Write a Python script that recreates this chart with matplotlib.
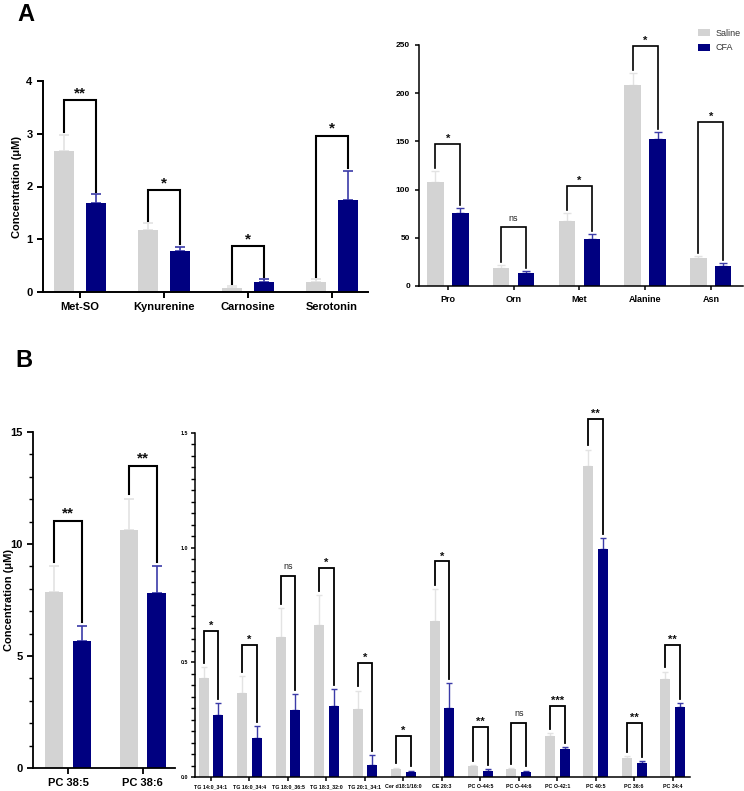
import matplotlib
matplotlib.use("Agg")
import matplotlib.pyplot as plt
from matplotlib.patches import Patch
from matplotlib.ticker import MultipleLocator

plt.rcParams['font.family'] = ['Liberation Sans', 'DejaVu Sans']

SAL_C = '#d3d3d3'
CFA_C = '#000080'
SAL_E = '#e3e3e3'
CFA_E = '#3b3ba8'

# ---- Panel A left ----
a1_cats = ['Met-SO', 'Kynurenine', 'Carnosine', 'Serotonin']
a1_sal = [2.67, 1.17, 0.08, 0.19]
a1_sal_err = [0.31, 0.13, 0.03, 0.05]
a1_cfa = [1.68, 0.78, 0.19, 1.74]
a1_cfa_err = [0.17, 0.08, 0.05, 0.56]
a1_sig = ['**', '*', '*', '*']
a1_brk = [3.64, 1.93, 0.87, 2.96]

# ---- Panel A right ----
a2_cats = ['Pro', 'Orn', 'Met', 'Alanine', 'Asn']
a2_sal = [107.5, 19.0, 67.8, 208.0, 28.7]
a2_sal_err = [12.0, 2.5, 8.2, 13.0, 2.8]
a2_cfa = [75.4, 13.8, 48.4, 153.0, 20.7]
a2_cfa_err = [6.0, 2.1, 5.2, 7.0, 2.8]
a2_sig = ['*', 'ns', '*', '*', '*']
a2_brk = [147, 61.5, 104, 249, 170]

# ---- Panel B left ----
b1_cats = ['PC 38:5', 'PC 38:6']
b1_sal = [7.87, 10.61]
b1_sal_err = [1.16, 1.42]
b1_cfa = [5.68, 7.82]
b1_cfa_err = [0.65, 1.18]
b1_sig = ['**', '**']
b1_brk = [11.03, 13.49]

# ---- Panel B right ----
b2_cats = ['TG 14:0_34:1', 'TG 16:0_34:4', 'TG 18:0_36:5', 'TG 18:3_32:0',
           'TG 20:1_34:1', 'Cer d18:1/16:0', 'CE 20:3', 'PC O-44:5',
           'PC O-44:6', 'PC O-42:1', 'PC 40:5', 'PC 36:6', 'PC 34:4']
b2_sal = [0.431, 0.368, 0.610, 0.664, 0.297, 0.035, 0.680, 0.049, 0.036, 0.179, 1.354, 0.084, 0.428]
b2_sal_err = [0.048, 0.072, 0.125, 0.131, 0.080, 0.006, 0.140, 0.004, 0.004, 0.012, 0.074, 0.009, 0.032]
b2_cfa = [0.272, 0.169, 0.291, 0.310, 0.052, 0.020, 0.300, 0.026, 0.020, 0.122, 0.993, 0.062, 0.307]
b2_cfa_err = [0.050, 0.055, 0.071, 0.073, 0.043, 0.008, 0.108, 0.010, 0.008, 0.008, 0.047, 0.006, 0.016]
b2_sig = ['*', '*', 'ns', '*', '*', '*', '*', '**', 'ns', '***', '**', '**', '**']
b2_brk = [0.638, 0.576, 0.875, 0.910, 0.498, 0.180, 0.940, 0.220, 0.234, 0.310, 1.563, 0.237, 0.575]

W, H = 744, 791
fig = plt.figure(figsize=(W / 100, H / 100), dpi=100)


def px_axes(x0, y0, x1, y1):
    return fig.add_axes([x0 / W, 1 - y1 / H, (x1 - x0) / W, (y1 - y0) / H])


def panel(ax, cats, sal, se, cfa, ce, sig, brk, ymax, xlim, width=0.25, off=0.19,
          cap=3.5, elw=1.2, blw=1.4, sfs=10, nsfs=7, gap_frac=0.012, star_pad=0.0):
    n = len(cats)
    xs = list(range(n))
    xl = [x - off for x in xs]
    xr = [x + off for x in xs]
    ax.bar(xl, sal, width=width, color=SAL_C, zorder=2)
    ax.bar(xr, cfa, width=width, color=CFA_C, zorder=2)
    ax.errorbar(xl, sal, yerr=[[0] * n, se], fmt='none', ecolor=SAL_E,
                elinewidth=elw, capsize=cap, capthick=elw, zorder=1)
    ax.errorbar(xr, cfa, yerr=[[0] * n, ce], fmt='none', ecolor=CFA_E,
                elinewidth=elw, capsize=cap, capthick=elw, zorder=1)
    gap = gap_frac * ymax
    for i in range(n):
        lb = sal[i] + se[i] + gap
        rb = cfa[i] + ce[i] + gap
        ax.plot([xl[i], xl[i], xr[i], xr[i]], [lb, brk[i], brk[i], rb],
                color='black', lw=blw, solid_joinstyle='miter', zorder=3, clip_on=False)
        if sig[i] == 'ns':
            ax.text(xs[i], brk[i] + 0.015 * ymax, 'ns', ha='center', va='bottom',
                    fontsize=nsfs, color='#222222')
        else:
            ax.text(xs[i], brk[i] + star_pad * ymax, sig[i], ha='center', va='bottom',
                    fontsize=sfs, fontweight='bold', color='#111111')
    ax.set_xlim(*xlim)
    ax.set_ylim(0, ymax)
    ax.set_xticks(xs)
    ax.set_xticklabels(cats)
    for s in ['top', 'right']:
        ax.spines[s].set_visible(False)
    ax.set_facecolor('none')


# A left
ax1 = px_axes(43, 81, 368, 292)
panel(ax1, a1_cats, a1_sal, a1_sal_err, a1_cfa, a1_cfa_err, a1_sig, a1_brk,
      4, (-0.44, 3.43), width=0.24, cap=3.5, blw=1.5, sfs=11)
ax1.set_yticks([0, 1, 2, 3, 4])
ax1.tick_params(axis='both', direction='out', length=4, width=1.4, labelsize=8)
for lab in ax1.get_xticklabels() + ax1.get_yticklabels():
    lab.set_fontweight('bold')
for s in ['left', 'bottom']:
    ax1.spines[s].set_linewidth(1.4)
ax1.set_ylabel('Concentration (\u03bcM)', fontsize=8, fontweight='bold')
ax1.yaxis.set_label_coords((22 - 43) / 325, 0.5)

# A right
ax2 = px_axes(419, 45, 743, 286)
panel(ax2, a2_cats, a2_sal, a2_sal_err, a2_cfa, a2_cfa_err, a2_sig, a2_brk,
      250, (-0.44, 4.49), width=0.25, cap=3, elw=1.0, blw=1.2, sfs=8, nsfs=6.5)
ax2.set_yticks([0, 50, 100, 150, 200, 250])
ax2.tick_params(axis='both', direction='out', length=3, width=1.1, labelsize=6)
for lab in ax2.get_xticklabels() + ax2.get_yticklabels():
    lab.set_fontweight('bold')
ax2.tick_params(axis='x', labelsize=6.5)
for s in ['left', 'bottom']:
    ax2.spines[s].set_linewidth(1.1)

# B left
ax3 = px_axes(33, 432, 175, 768)
panel(ax3, b1_cats, b1_sal, b1_sal_err, b1_cfa, b1_cfa_err, b1_sig, b1_brk,
      15, (-0.47, 1.43), width=0.25, off=0.187, cap=3.5, blw=1.5, sfs=11)
ax3.set_yticks([0, 5, 10, 15])
ax3.yaxis.set_minor_locator(MultipleLocator(1))
ax3.tick_params(axis='both', which='major', direction='out', length=4, width=1.3, labelsize=8)
ax3.tick_params(axis='y', which='minor', direction='out', length=3, width=1.0)
for lab in ax3.get_xticklabels() + ax3.get_yticklabels():
    lab.set_fontweight('bold')
for s in ['left', 'bottom']:
    ax3.spines[s].set_linewidth(1.3)
ax3.set_ylabel('Concentration (\u03bcM)', fontsize=8, fontweight='bold')
ax3.yaxis.set_label_coords((14 - 33) / 142, 0.5)

# B right
ax4 = px_axes(195, 433, 690, 777)
panel(ax4, b2_cats, b2_sal, b2_sal_err, b2_cfa, b2_cfa_err, b2_sig, b2_brk,
      1.5, (-0.416, 12.45), width=0.26, off=0.19, cap=2, elw=1.0, blw=1.3,
      sfs=8, nsfs=6.5, star_pad=0.0)
ax4.set_yticks([0, 0.5, 1.0, 1.5])
ax4.set_yticklabels(['0.0', '0.5', '1.0', '1.5'])
ax4.yaxis.set_minor_locator(MultipleLocator(0.05))
ax4.tick_params(axis='both', which='major', direction='out', length=3, width=1.1, labelsize=3.8, pad=2)
ax4.tick_params(axis='y', which='minor', direction='out', length=3, width=1.0)
for lab in ax4.get_xticklabels() + ax4.get_yticklabels():
    lab.set_fontweight('bold')
for s in ['left', 'bottom']:
    ax4.spines[s].set_linewidth(1.1)

# Legend
handles = [Patch(facecolor=SAL_C, edgecolor='none'), Patch(facecolor=CFA_C, edgecolor='none')]
fig.legend(handles, ['Saline', 'CFA'], loc='upper left', bbox_to_anchor=(698 / W, 1 - 29 / H),
           frameon=False, fontsize=6.5, handlelength=1.3, handleheight=0.8,
           handletextpad=0.6, labelspacing=0.6, borderpad=0, borderaxespad=0,
           labelcolor='#333333')

# Panel letters
fig.text(17 / W, 1 - 21 / H, 'A', fontsize=17, fontweight='bold', ha='left', va='baseline')
fig.text(15 / W, 1 - 367 / H, 'B', fontsize=17, fontweight='bold', ha='left', va='baseline')

fig.savefig('out.png', dpi=100)
